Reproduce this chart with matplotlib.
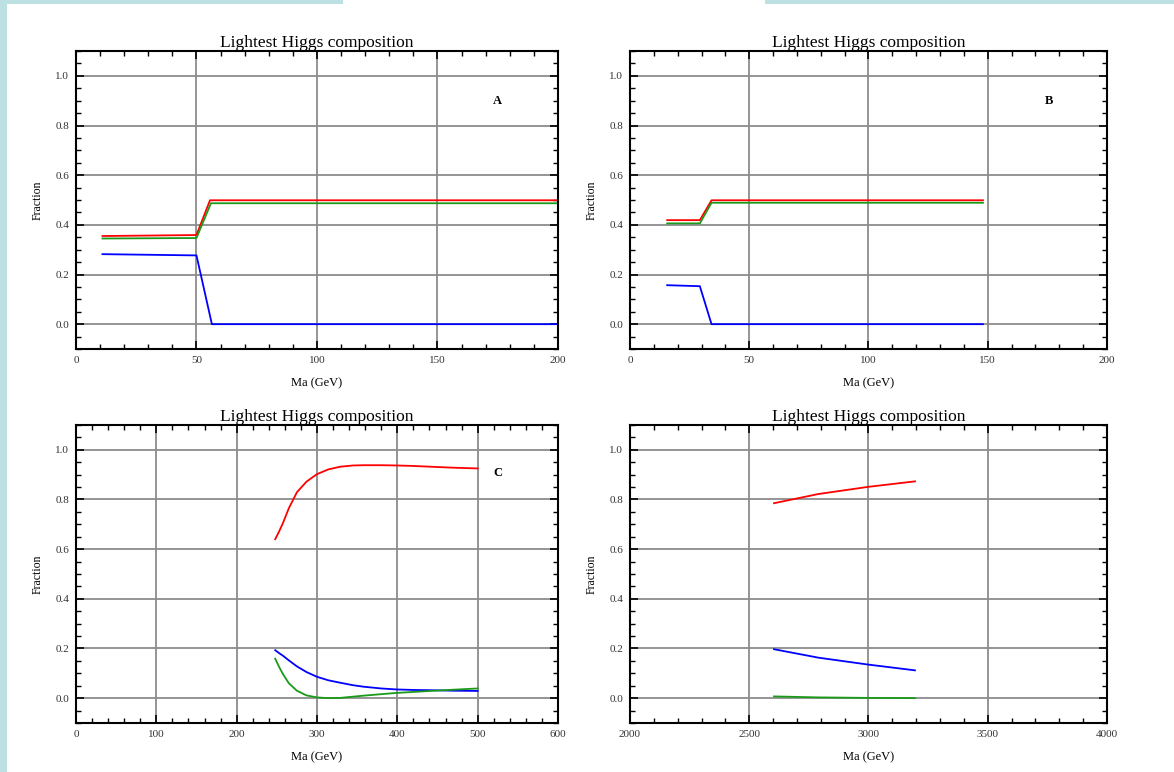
import matplotlib.pyplot as plt
from matplotlib.patches import Rectangle
from matplotlib.ticker import MultipleLocator

plt.rcParams['font.family'] = ['Liberation Serif', 'DejaVu Serif']

RED = '#ff0000'
GREEN = '#1a9a1a'
BLUE = '#0000ff'

# panel A
a_x = [11, 50, 55.6, 200]
a_red = [0.355, 0.359, 0.499, 0.499]
a_x_green = [11, 50, 56, 200]
a_green = [0.345, 0.347, 0.487, 0.487]
a_x_blue = [11, 50, 56.4, 200]
a_blue = [0.282, 0.277, 0.0, 0.0]

# panel B
b_x = [15.6, 29.3, 34.2, 148]
b_red = [0.419, 0.419, 0.499, 0.499]
b_green = [0.406, 0.406, 0.489, 0.489]
b_blue = [0.157, 0.153, 0.0, 0.0]

# panel C
c_x = [248, 253, 258, 265, 275, 287, 300, 314, 329, 345, 358, 380, 399, 420, 441, 470, 500]
c_red = [0.640, 0.672, 0.708, 0.765, 0.829, 0.872, 0.902, 0.921, 0.932, 0.937,
         0.938, 0.938, 0.937, 0.935, 0.932, 0.928, 0.925]
c_blue = [0.193, 0.181, 0.170, 0.152, 0.128, 0.105, 0.086, 0.072, 0.062, 0.052,
          0.046, 0.039, 0.035, 0.033, 0.032, 0.030, 0.029]
c_green = [0.159, 0.125, 0.095, 0.060, 0.030, 0.011, 0.003, 0.0, 0.001, 0.006,
           0.010, 0.016, 0.021, 0.025, 0.029, 0.034, 0.039]

# panel D
d_x = [2604, 2790, 3000, 3195]
d_red = [0.785, 0.822, 0.851, 0.873]
d_blue = [0.197, 0.163, 0.135, 0.112]
d_green = [0.007, 0.003, 0.001, 0.0]

fig = plt.figure(figsize=(11.74, 7.72), dpi=100)
fig.patch.set_facecolor('white')
strip = '#bde0e3'
fig.add_artist(Rectangle((0, 0), 7 / 1174, 1, transform=fig.transFigure, color=strip, lw=0))
fig.add_artist(Rectangle((0, 1 - 4 / 772), 343 / 1174, 4 / 772, transform=fig.transFigure, color=strip, lw=0))
fig.add_artist(Rectangle((765 / 1174, 1 - 4 / 772), 409 / 1174, 4 / 772, transform=fig.transFigure, color=strip, lw=0))

w = 0.4106
h = 0.386
ax_a = fig.add_axes([0.0647, 0.5479, w, h])
ax_b = fig.add_axes([0.5366, 0.5479, 0.4063, h])
ax_c = fig.add_axes([0.0647, 0.0635, w, h])
ax_d = fig.add_axes([0.5366, 0.0635, 0.4063, h])


def style(ax, xlim, xmaj, xmin):
    ax.set_xlim(*xlim)
    ax.set_ylim(-0.1, 1.1)
    ax.xaxis.set_major_locator(MultipleLocator(xmaj))
    ax.xaxis.set_minor_locator(MultipleLocator(xmin))
    ax.yaxis.set_minor_locator(MultipleLocator(0.05))
    ax.set_yticks([0.0, 0.2, 0.4, 0.6, 0.8, 1.0])
    ax.set_yticklabels(['0.0', '0.2', '0.4', '0.6', '0.8', '1.0'])
    ax.grid(True, which='major', color='#8c8c8c', lw=1.3)
    ax.set_axisbelow(True)
    ax.tick_params(which='both', direction='in', top=True, right=True,
                   labelsize=8, colors='black', labelcolor='#333333')
    ax.tick_params(which='major', length=6, width=1.2, pad=5)
    ax.tick_params(which='minor', length=3.5, width=1.0)
    for s in ax.spines.values():
        s.set_linewidth(1.5)
        s.set_color('black')
    ax.set_title('Lightest Higgs composition', fontsize=12.5, pad=2)
    ax.set_xlabel('Ma (GeV)', fontsize=9, labelpad=9)
    ax.set_ylabel('Fraction', fontsize=8.5, labelpad=8)


style(ax_a, (0, 200), 50, 10)
ax_a.plot(a_x, a_red, color=RED, lw=1.3)
ax_a.plot(a_x_green, a_green, color=GREEN, lw=1.3)
ax_a.plot(a_x_blue, a_blue, color=BLUE, lw=1.3)
ax_a.text(175, 0.9, 'A', fontsize=9, fontweight='bold', ha='center', va='center')

style(ax_b, (0, 200), 50, 10)
ax_b.plot(b_x, b_red, color=RED, lw=1.3)
ax_b.plot(b_x, b_green, color=GREEN, lw=1.3)
ax_b.plot(b_x, b_blue, color=BLUE, lw=1.3)
ax_b.text(175.7, 0.9, 'B', fontsize=9, fontweight='bold', ha='center', va='center')

style(ax_c, (0, 600), 100, 20)
ax_c.plot(c_x, c_red, color=RED, lw=1.3)
ax_c.plot(c_x, c_blue, color=BLUE, lw=1.3)
ax_c.plot(c_x, c_green, color=GREEN, lw=1.3)
ax_c.text(525, 0.905, 'C', fontsize=9, fontweight='bold', ha='center', va='center')

style(ax_d, (2000, 4000), 500, 100)
ax_d.plot(d_x, d_red, color=RED, lw=1.3)
ax_d.plot(d_x, d_blue, color=BLUE, lw=1.3)
ax_d.plot(d_x, d_green, color=GREEN, lw=1.3)

fig.savefig('out.png', dpi=100)
